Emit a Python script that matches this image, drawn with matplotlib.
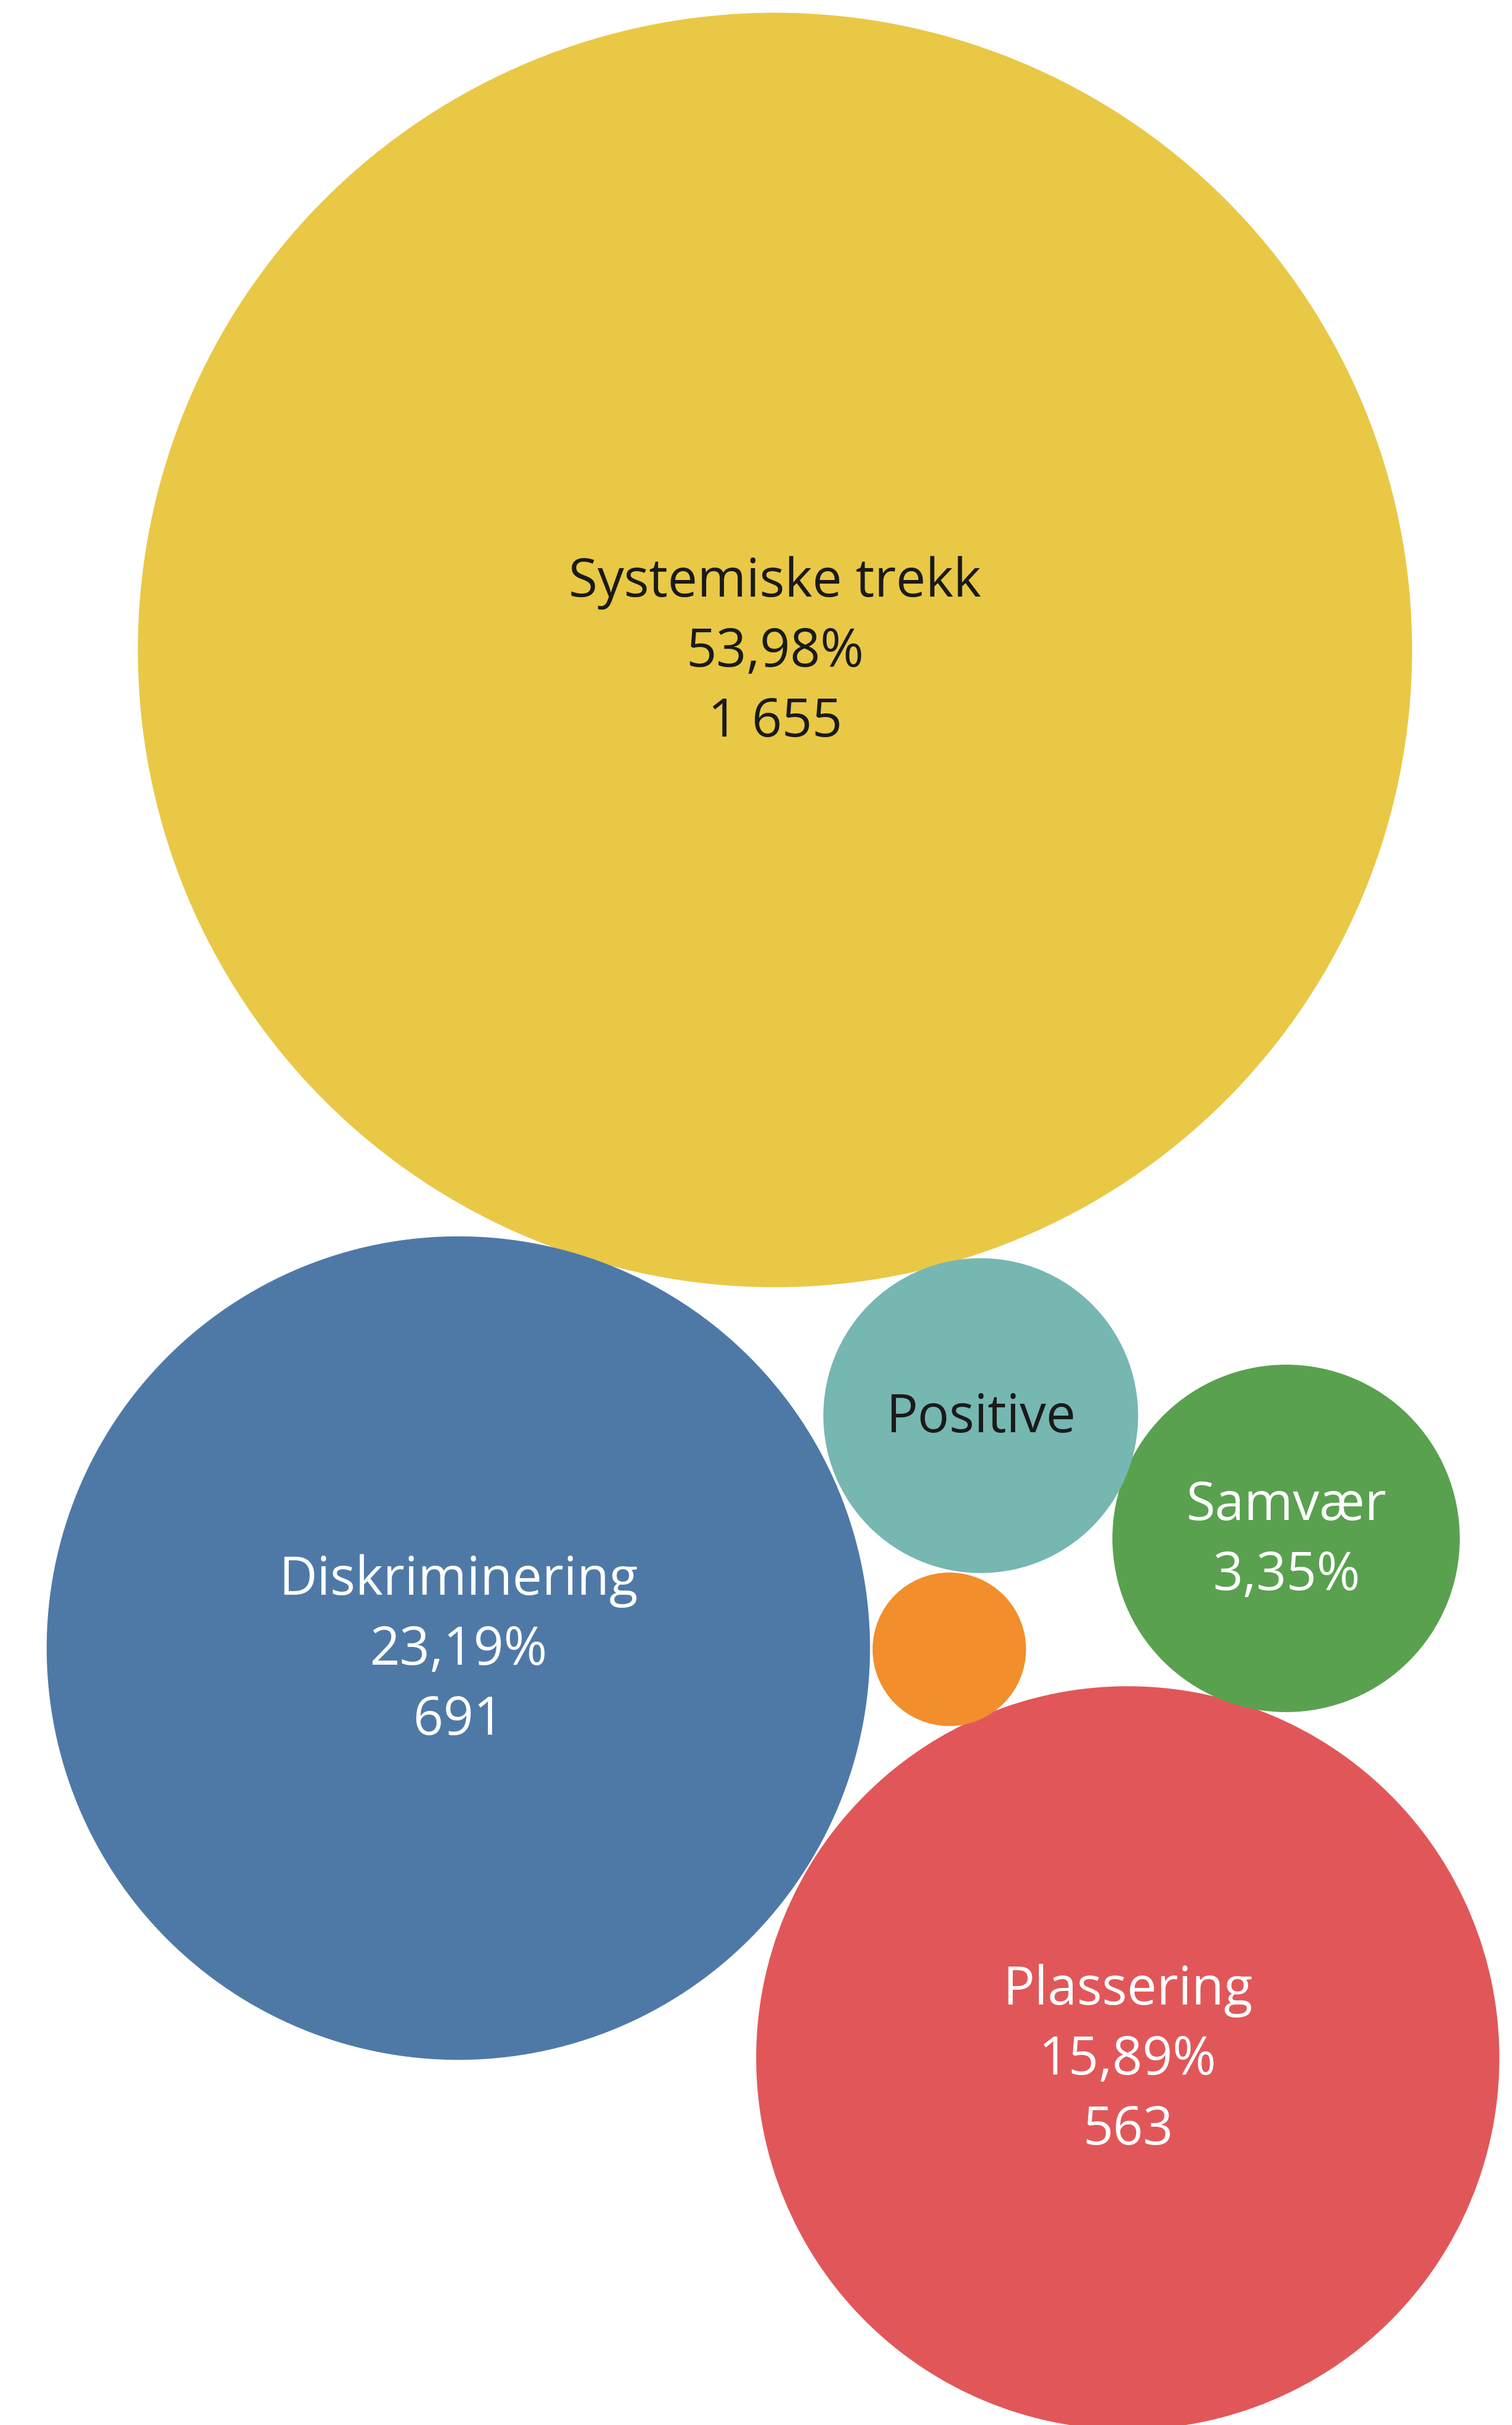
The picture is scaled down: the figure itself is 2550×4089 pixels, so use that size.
import numpy as np
import matplotlib
matplotlib.use("Agg")
import matplotlib.pyplot as plt
from matplotlib.patches import Circle

# ---- data ----
categories = ["Systemiske trekk", "Diskriminering", "Plassering", "Samvær", "Positive", ""]
counts = [1655, 691, 563, 123, 101, 24]
pct_labels = ["53,98%", "23,19%", "15,89%", "3,35%", "", ""]
count_labels = ["1 655", "691", "563", "", "", ""]
colors = ["#E9C846", "#4E79A7", "#E15759", "#59A14F", "#76B7B2", "#F28E2B"]
text_colors = ["#1a1a1a", "#ffffff", "#ffffff", "#ffffff", "#1a1a1a", "#ffffff"]

# ---- layout (bubble packing positions, in pixels) ----
W, H = 2550, 4089
centers_x = [1307, 773, 1902, 2169, 1654, 1601]
centers_y = [1096, 2779, 3470, 2594, 2387, 2781]
r_max = 1074.5  # radius of the largest bubble
scale = r_max / np.sqrt(max(counts))

plt.rcParams['font.family'] = ['Open Sans', 'DejaVu Sans']

fig = plt.figure(figsize=(W / 100, H / 100), dpi=100)
ax = fig.add_axes([0, 0, 1, 1])
ax.set_xlim(0, W)
ax.set_ylim(H, 0)
ax.axis("off")

line_gap = 118
fs = 64

for name, c, pl, cl, col, tc, cx, cy in zip(categories, counts, pct_labels, count_labels,
                                            colors, text_colors, centers_x, centers_y):
    r = scale * np.sqrt(c)
    ax.add_patch(Circle((cx, cy), r, facecolor=col, edgecolor="none"))
    lines = [s for s in (name, pl, cl) if s]
    n = len(lines)
    for i, s in enumerate(lines):
        y = cy + 28 + (i - (n - 1) / 2) * line_gap
        ax.text(cx, y, s, ha="center", va="baseline", fontsize=fs, color=tc)

fig.savefig("out.png", dpi=100, facecolor="white")
